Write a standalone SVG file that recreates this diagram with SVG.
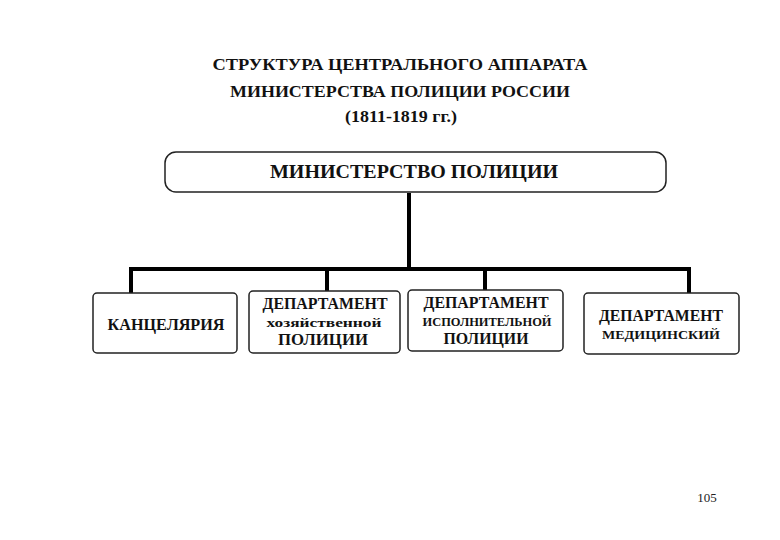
<svg xmlns="http://www.w3.org/2000/svg" width="780" height="540" viewBox="0 0 780 540">
<style>
.t{font-family:'Liberation Serif','DejaVu Serif',serif;font-weight:bold;fill:#111;text-anchor:middle}
.box{fill:#fff;stroke:#222;stroke-width:1.5}
.conn{stroke:#000;stroke-width:4;fill:none;stroke-linecap:butt}
.pg{font-family:'Liberation Serif',serif;font-size:13px;fill:#222;text-anchor:middle}
</style>
<rect width="780" height="540" fill="#fff"/>
<g id="title">
<text class="t" x="400" y="70" font-size="17" textLength="375" lengthAdjust="spacingAndGlyphs">СТРУКТУРА ЦЕНТРАЛЬНОГО АППАРАТА</text>
<text class="t" x="400" y="97" font-size="17" textLength="340" lengthAdjust="spacingAndGlyphs">МИНИСТЕРСТВА ПОЛИЦИИ РОССИИ</text>
<text class="t" x="401" y="122" font-size="17" textLength="112" lengthAdjust="spacingAndGlyphs">(1811-1819 гг.)</text>
</g>
<g id="connectors">
<path class="conn" d="M409 193 V269"/>
<path class="conn" d="M129 269 H691"/>
<path class="conn" d="M131 267 V293"/>
<path class="conn" d="M327 269 V291"/>
<path class="conn" d="M485 269 V291"/>
<path class="conn" d="M689 267 V293"/>
</g>
<g id="ministry">
<rect class="box" x="165" y="152" width="501" height="40" rx="11" ry="11"/>
<text class="t" x="414" y="178" font-size="19" textLength="288" lengthAdjust="spacingAndGlyphs">МИНИСТЕРСТВО ПОЛИЦИИ</text>
</g>
<g id="chancellery">
<rect class="box" x="93" y="293" width="144" height="60" rx="4" ry="4"/>
<text class="t" x="166" y="330" font-size="16" textLength="117" lengthAdjust="spacingAndGlyphs">КАНЦЕЛЯРИЯ</text>
</g>
<g id="dept-economic">
<rect class="box" x="249" y="291" width="151" height="62" rx="4" ry="4"/>
<text class="t" x="325" y="309" font-size="16" textLength="125" lengthAdjust="spacingAndGlyphs">ДЕПАРТАМЕНТ</text>
<text class="t" x="324" y="327" font-size="13" textLength="115" lengthAdjust="spacingAndGlyphs">хозяйственной</text>
<text class="t" x="323" y="345" font-size="17" textLength="90" lengthAdjust="spacingAndGlyphs">ПОЛИЦИИ</text>
</g>
<g id="dept-executive">
<rect class="box" x="408" y="290" width="155" height="61" rx="4" ry="4"/>
<text class="t" x="486" y="308" font-size="16" textLength="125" lengthAdjust="spacingAndGlyphs">ДЕПАРТАМЕНТ</text>
<text class="t" x="487" y="326" font-size="12" textLength="129" lengthAdjust="spacingAndGlyphs">ИСПОЛНИТЕЛЬНОЙ</text>
<text class="t" x="486" y="344" font-size="17" textLength="85" lengthAdjust="spacingAndGlyphs">ПОЛИЦИИ</text>
</g>
<g id="dept-medical">
<rect class="box" x="584" y="293" width="155" height="61" rx="4" ry="4"/>
<text class="t" x="661" y="321" font-size="16" textLength="124" lengthAdjust="spacingAndGlyphs">ДЕПАРТАМЕНТ</text>
<text class="t" x="661" y="339" font-size="13" textLength="118" lengthAdjust="spacingAndGlyphs">МЕДИЦИНСКИЙ</text>
</g>
<text class="pg" x="707" y="502">105</text>
</svg>
